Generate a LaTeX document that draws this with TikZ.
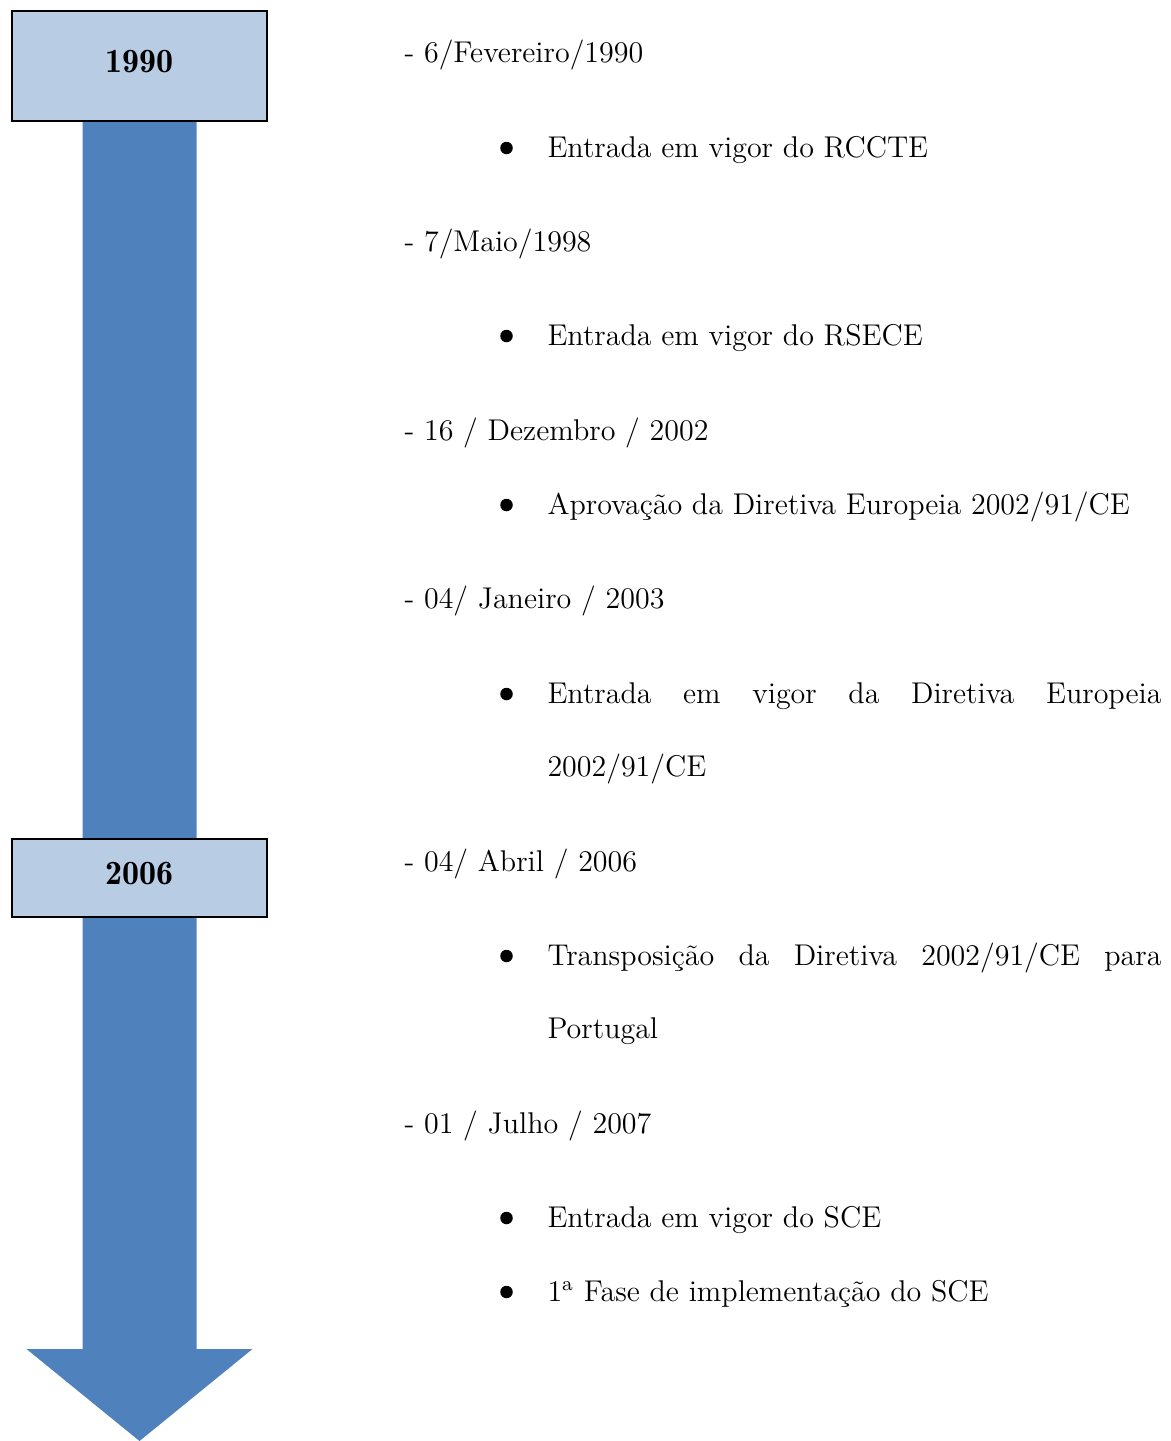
\documentclass[tikz,border=0pt]{standalone}
\usepackage{xcolor}
\usepackage{tikz}
\usetikzlibrary{calc, backgrounds}
\definecolor{blueA}{HTML}{4F81BD}
\definecolor{blueB}{HTML}{B8CCE4}
\newcommand{\txtfont}{\fontsize{12}{14}\selectfont}
\tikzset{
  yearbox/.style={
    draw=black, fill=blueB, line width=0.8pt,
    minimum width=102pt, inner sep=0pt,
    font=\fontsize{13.6}{15}\fontseries{b}\selectfont
  },
  date/.style={anchor=base west, inner sep=0pt, font=\txtfont},
  entry/.style={anchor=base west, inner sep=0pt, font=\txtfont},
  dot/.style={circle, fill=black, inner sep=0pt, minimum size=5pt}
}

\begin{document}
\begin{tikzpicture}[x=0.4pt, y=-0.4pt]
  \useasboundingbox (0,0) rectangle (1171,1441);
  % year boxes
  \node[yearbox, minimum height=44pt] (y1990) at (139.5,66) {\raisebox{1.6pt}[\height][\depth]{1990}};
  \node[yearbox, minimum height=31.2pt] (y2006) at (139.5,878) {\raisebox{1.6pt}[\height][\depth]{2006}};
  % timeline arrow
  \coordinate (tip) at (139.5,1441);
  \begin{scope}[on background layer]
    \fill[blueA] ($(y1990.south)+(-57,0)$) -- ++(114,0)
      -- ($(tip)+(57,-92)$) -- ++(56,0) -- (tip)
      -- ($(tip)+(-113,-92)$) -- ++(56,0) -- cycle;
  \end{scope}
  % events
  \node[date] (d1) at (404,62) {- 6/Fevereiro/1990};
  \node[dot] (b1) at (506.5,148) {};
  \node[entry] (e1) at (547,157) {Entrada em vigor do RCCTE};
  \node[date] (d2) at (404,251) {- 7/Maio/1998};
  \node[dot] (b2) at (506.5,336) {};
  \node[entry] (e2) at (547,345) {Entrada em vigor do RSECE};
  \node[date] (d3) at (404,440) {- 16 / Dezembro / 2002};
  \node[dot] (b3) at (506.5,505) {};
  \node[entry] (e3) at (547,514) {Aprovação da Diretiva Europeia 2002/91/CE};
  \node[date] (d4) at (404,608) {- 04/ Janeiro / 2003};
  \node[dot] (b4) at (506.5,694) {};
  \node[entry] (e4) at (547,703) {\makebox[245.6pt][s]{Entrada em vigor da Diretiva Europeia}};
  \node[entry] (e4b) at (547,776) {2002/91/CE};
  \node[date] (d5) at (404,871) {- 04/ Abril / 2006};
  \node[dot] (b5) at (506.5,956) {};
  \node[entry] (e5) at (547,965) {\makebox[245.6pt][s]{Transposição da Diretiva 2002/91/CE para}};
  \node[entry] (e5b) at (547,1038) {Portugal};
  \node[date] (d6) at (404,1133) {- 01 / Julho / 2007};
  \node[dot] (b6) at (506.5,1218) {};
  \node[entry] (e6) at (547,1227) {Entrada em vigor do SCE};
  \node[dot] (b7) at (506.5,1292) {};
  \node[entry] (e7) at (547,1301) {1\textsuperscript{a} Fase de implementação do SCE};
\end{tikzpicture}
\end{document}
